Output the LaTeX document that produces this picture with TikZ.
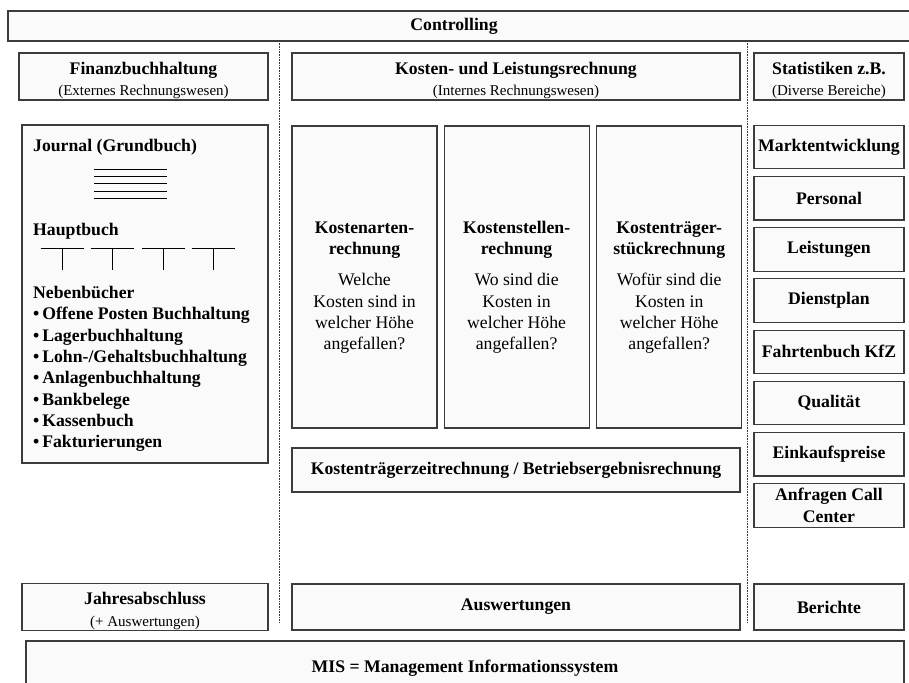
\documentclass[tikz,border=0pt]{standalone}
\usepackage{fontspec}
\setmainfont{Liberation Serif}
\usepackage{tikz}
\usetikzlibrary{positioning}
\usepackage{xcolor}
\definecolor{rwline}{RGB}{60,60,60}
\definecolor{rwfill}{RGB}{250,250,250}
\newcommand{\bodytxt}{\fontsize{17.7}{21.3}\selectfont}
\newcommand{\subtxt}{\fontsize{15}{16}\selectfont}
\newcommand{\midlift}{\rule{0pt}{33pt}}
\newcommand{\headlift}{\rule{0pt}{20pt}}
\tikzstyle{rwframe} = [draw=rwline, fill=rwfill, line width=1.1pt]
\tikzstyle{rwbox} = [rectangle, rwframe, inner xsep=2pt, inner ysep=1pt, align=flush center, font=\bodytxt]
\tikzstyle{statbox} = [rwbox, font=\bodytxt\bfseries, text width=146pt, minimum height=43.5pt]
\tikzstyle{midbox} = [rwbox, text width=141pt, minimum height=302pt]
\tikzstyle{sepline} = [draw=rwline, line width=0.7pt, dash pattern=on 0.8pt off 0.8pt]
\tikzstyle{ledger} = [draw=black, line width=0.8pt]
\tikzstyle{jtext} = [anchor=west, inner sep=0pt, font=\bodytxt\bfseries, align=left]

\begin{document}
\begin{tikzpicture}[x=1pt, y=-1pt, node distance=6.6pt]
\clip (0,0) rectangle (909,682);

% Kopfzeile
\draw[rwframe] (8,11) rectangle (915,41);
\node[font=\bodytxt\bfseries] (ctrl) at (454,26) {Controlling};

\draw[sepline] (279,41) -- (279,622);
\draw[sepline] (747,41) -- (747,622);

% Spaltenköpfe
\node[rwbox, text width=245pt, minimum height=47pt] (fibu) at (143.5,76.5) {\headlift\textbf{Finanzbuchhaltung}\\\subtxt(Externes Rechnungswesen)};
\node[rwbox, text width=444pt, minimum height=47pt] (klr) at (516,76.5) {\headlift\textbf{Kosten- und Leistungsrechnung}\\\subtxt(Internes Rechnungswesen)};
\node[rwbox, text width=146pt, minimum height=47pt] (stat) at (829,76.5) {\headlift\textbf{Statistiken z.B.}\\\subtxt(Diverse Bereiche)};

% Finanzbuchhaltung
\node[rwbox, minimum width=246pt, minimum height=338pt] (journal) at (145,294) {};
\node[jtext] (jtitle) at (33,147) {Journal (Grundbuch)};
\foreach \y in {169,176,183,191,198}
  \draw[ledger] (94,\y) -- (167,\y);
\node[jtext] (hbuch) at (33,231) {Hauptbuch};
\foreach \x in {62,112,163,213} {
  \draw[ledger] (\x-21.5,248) -- (\x+21.5,248);
  \draw[ledger] (\x,248) -- (\x,270);
}
\node[jtext] (nbuch) at (33,369) {Nebenbücher\\
  \textbullet\,Offene Posten Buchhaltung\\
  \textbullet\,Lagerbuchhaltung\\
  \textbullet\,Lohn-/Gehaltsbuchhaltung\\
  \textbullet\,Anlagenbuchhaltung\\
  \textbullet\,Bankbelege\\
  \textbullet\,Kassenbuch\\
  \textbullet\,Fakturierungen};

% Kosten- und Leistungsrechnung
\node[midbox] (kart) at (364.5,277) {\midlift\textbf{Kostenarten-\\rechnung}\\[10pt]Welche\\Kosten sind in\\welcher Höhe\\angefallen?};
\node[midbox, right=6pt of kart] (kst) {\midlift\textbf{Kostenstellen-\\rechnung}\\[10pt]Wo sind die\\Kosten in\\welcher Höhe\\angefallen?};
\node[midbox, right=6.5pt of kst] (ktr) {\midlift\textbf{Kostenträger-\\stückrechnung}\\[10pt]Wofür sind die\\Kosten in\\welcher Höhe\\angefallen?};
\node[rwbox, font=\bodytxt\bfseries, text width=444pt, minimum height=44pt] (ktzr) at (516,470) {Kostenträgerzeitrechnung / Betriebsergebnisrechnung};

% Statistiken
\node[statbox] (markt) at (829,147) {Marktentwicklung};
\node[statbox, below=of markt] (pers) {Personal};
\node[statbox, below=of pers] (leist) {Leistungen};
\node[statbox, below=of leist] (dienst) {Dienstplan};
\node[statbox, below=of dienst] (fahrt) {Fahrtenbuch KfZ};
\node[statbox, below=of fahrt] (qual) {Qualität};
\node[statbox, below=of qual] (einkauf) {Einkaufspreise};
\node[statbox, below=of einkauf] (call) {Anfragen Call\\Center};

% Ergebnisse
\node[rwbox, text width=242pt, minimum height=46pt] (jabs) at (145,607) {\headlift\textbf{Jahresabschluss}\\\subtxt(+ Auswertungen)};
\node[rwbox, font=\bodytxt\bfseries, text width=444pt, minimum height=46pt] (ausw) at (516,607) {Auswertungen};
\node[statbox, minimum height=46pt] (ber) at (829,607) {Berichte};
\node[rwbox, font=\bodytxt\bfseries, text width=874pt, minimum height=54pt] (mis) at (465,668) {MIS = Management Informationssystem};
\end{tikzpicture}
\end{document}
